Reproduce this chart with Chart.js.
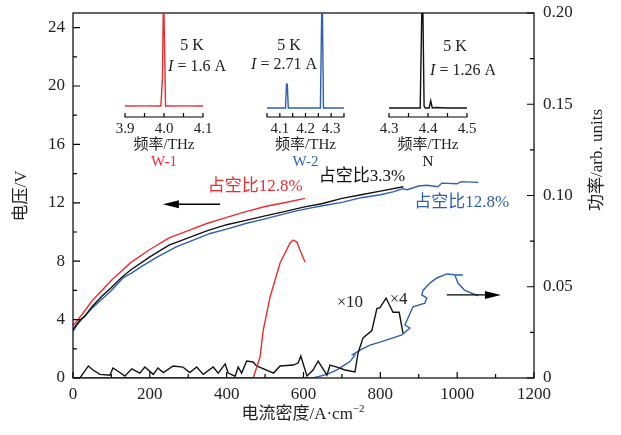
<!DOCTYPE html>
<html><head><meta charset="utf-8">
<script src="https://cdn.jsdelivr.net/npm/chart.js@4.4.1/dist/chart.umd.min.js"></script>
<style>
html,body{margin:0;padding:0;background:#fff;}
#wrap{position:relative;width:621px;height:435px;overflow:hidden;}
canvas{position:absolute;}
</style></head><body>
<div id="wrap">
<canvas id="main" width="621" height="435" style="left:0;top:0;"></canvas>
<canvas id="in1" width="130" height="175" style="left:100px;top:0;"></canvas>
<canvas id="in2" width="130" height="175" style="left:240px;top:0;"></canvas>
<canvas id="in3" width="130" height="175" style="left:365px;top:0;"></canvas>
</div>
<script>
// ---------- DATA ----------
// Voltage (left axis, V) vs current density (A/cm^2)
const redV_J   = [0,10,25,50,75,100,125,150,200,250,300,350,400,450,500,550,604];
const redV     = [3.6,3.9,4.4,5.3,6.0,6.7,7.3,7.9,8.8,9.6,10.1,10.6,11.0,11.4,11.75,12.0,12.3];
const blackV_J = [0,10,20,30,50,75,100,125,150,200,250,300,350,400,450,500,550,600,650,700,750,800,860];
const blackV   = [3.3,3.7,4.0,4.2,4.9,5.6,6.2,6.85,7.4,8.3,9.1,9.6,10.1,10.5,10.8,11.1,11.4,11.7,11.95,12.3,12.55,12.8,13.1];
const blueV_J  = [0,10,25,50,75,100,130,150,182,220,270,300,357,400,452,500,573,620,650,703,750,800,833,858,870,900,921,950,960,1000,1010,1055];
const blueV    = [3.2,3.6,4.1,4.8,5.4,6.0,6.85,7.15,7.7,8.3,9.0,9.3,9.9,10.2,10.6,10.9,11.4,11.65,11.8,12.05,12.35,12.55,12.75,12.95,12.9,13.15,13.2,13.1,13.35,13.3,13.45,13.4];
// Power (right axis, arb. units)
const redP_J   = [0,469,487,495,513,539,565,573,583,591,604];
const redP     = [0,0,0.0115,0.026,0.0444,0.063,0.074,0.0756,0.0745,0.070,0.0636];
const blackP_J = [0,18,40,52,70,96,104,122,135,153,174,187,209,221,235,261,286,304,322,339,365,378,396,404,422,430,439,452,469,478,522,539,573,586,593,609,625,638,661,669,687,708,734,742,755,778,791,799,815,833,849,859];
const blackP   = [0,0,0.0066,0.0044,0.002,0.0015,0.0055,0.003,0.001,0.005,0.0027,0.006,0.002,0.0055,0.003,0.0066,0.006,0.003,0.006,0.002,0.006,0.0027,0.0077,0.0027,0.001,0.006,0.0027,0.0093,0.0088,0.0066,0.0027,0.0066,0.0071,0.0082,0.012,0.0011,0.0044,0.0093,0.0016,0.0071,0.006,0.0044,0.0033,0.0137,0.022,0.026,0.038,0.0385,0.0438,0.036,0.036,0.0246];
const blueP_J  = [0,487,625,661,687,703,721,734,728,747,773,799,833,856,877,864,872,885,916,921,908,911,929,947,973,994,1015,994,1002,1020,1055];
const blueP    = [0,0,0,0.002,0.0044,0.0066,0.009,0.0126,0.0128,0.0153,0.018,0.0197,0.022,0.0236,0.0274,0.029,0.0329,0.039,0.041,0.0438,0.0455,0.048,0.052,0.0548,0.057,0.0566,0.0564,0.0564,0.052,0.048,0.045];
// Inset spectra (frequency THz, normalised intensity)
const w1F = [3.9,3.95,3.992,3.996,3.998,4.0,4.004,4.05,4.1];
const w1I = [0,0.002,0,0.3,1.0,1.0,0,0.002,0];
const w2F = [4.05,4.1,4.122,4.126,4.129,4.133,4.2,4.258,4.263,4.266,4.27,4.35];
const w2I = [0,0,0,0.25,0.25,0,0,0,1.0,1.0,0,0];
const nF  = [4.3,4.35,4.38,4.384,4.387,4.39,4.393,4.403,4.407,4.411,4.42,4.45,4.5];
const nI  = [0,0,0,1.0,1.0,0.02,0,0,0.075,0,0.005,0,0];
// Axis ranges / ticks
const xTicks = [0,200,400,600,800,1000,1200];
const yTicks = [0,4,8,12,16,20,24];
const y2Ticks = [0,0.05,0.10,0.15,0.20];

// ---------- STYLE ----------
const RED = '#ee2b2e', BLUE = '#2e5fb3', BLACK = '#111';
const SERIF = '"Liberation Serif","DejaVu Serif",serif';
const MIX = '"Liberation Serif","Noto Sans CJK SC",serif';
const TXT = '#222';
Chart.defaults.font.family = SERIF;
Chart.defaults.color = TXT;

const zip = (a,b) => a.map((v,i)=>({x:v,y:b[i]}));
function ds(J,V,color,axis){
  return {data:zip(J,V),borderColor:color,backgroundColor:color,borderWidth:1.4,
    pointRadius:0,showLine:true,tension:0,yAxisID:axis,fill:false};
}
function drawRich(ctx, parts, cx, cy, color){
  ctx.save(); ctx.fillStyle=color; ctx.textBaseline='alphabetic'; ctx.textAlign='left';
  let w=0; parts.forEach(p=>{ctx.font=p.f; p.w=ctx.measureText(p.t).width; w+=p.w;});
  let x=cx-w/2;
  parts.forEach(p=>{ctx.font=p.f; ctx.fillText(p.t,x,cy+(p.dy||0)); x+=p.w;});
  ctx.restore();
}
function text(ctx,s,x,y,font,color,rot){
  ctx.save(); ctx.font=font; ctx.fillStyle=color; ctx.textAlign='center'; ctx.textBaseline='middle';
  ctx.translate(x,y); if(rot) ctx.rotate(rot); ctx.fillText(s,0,0); ctx.restore();
}
function arrow(ctx,x1,y,x2){
  const dir = Math.sign(x2-x1);
  ctx.save(); ctx.strokeStyle='#000'; ctx.fillStyle='#000'; ctx.lineWidth=1.3;
  ctx.beginPath(); ctx.moveTo(x1,y); ctx.lineTo(x2-dir*10,y); ctx.stroke();
  ctx.beginPath(); ctx.moveTo(x2,y); ctx.lineTo(x2-dir*16,y-4); ctx.lineTo(x2-dir*16,y+4); ctx.closePath(); ctx.fill();
  ctx.restore();
}

const deco = {
  id:'deco',
  afterDraw(c){
    const ctx=c.ctx, a=c.chartArea, x=c.scales.x, y=c.scales.y, y2=c.scales.y2;
    ctx.save();
    ctx.strokeStyle='#000'; ctx.lineWidth=1.2;
    ctx.strokeRect(a.left,a.top,a.right-a.left,a.bottom-a.top);
    ctx.beginPath();
    for(let v=0; v<=1200; v+=100){ const p=x.getPixelForValue(v), l=(v%200===0)?6:4; ctx.moveTo(p,a.bottom); ctx.lineTo(p,a.bottom-l); }
    for(let v=0; v<=24; v+=2){ const p=y.getPixelForValue(v), l=(v%4===0)?7:4; ctx.moveTo(a.left,p); ctx.lineTo(a.left+l,p); }
    for(let k=0; k<=8; k++){ const p=y2.getPixelForValue(k*0.025), l=(k%2===0)?7:4; ctx.moveTo(a.right,p); ctx.lineTo(a.right-l,p); }
    ctx.stroke();
    ctx.restore();
    // axis titles
    text(ctx,'电压/V',22,196,'17px '+MIX,TXT,-Math.PI/2);
    text(ctx,'功率/arb. units',598,160,'17px '+MIX,TXT,-Math.PI/2);
    drawRich(ctx,[{t:'电流密度/A·cm',f:'17px '+MIX},{t:'−2',f:'11px '+SERIF,dy:-7}],303,419,TXT);
    // annotations
    text(ctx,'占空比12.8%',x.getPixelForValue(474),y.getPixelForValue(13.1),'17px '+MIX,RED);
    text(ctx,'占空比3.3%',x.getPixelForValue(752),y.getPixelForValue(13.8),'17px '+MIX,BLACK);
    text(ctx,'占空比12.8%',x.getPixelForValue(1012),y.getPixelForValue(12.0),'17px '+MIX,BLUE);
    drawRich(ctx,[{t:'×',f:'16px '+SERIF},{t:'10',f:'17px '+SERIF}],x.getPixelForValue(721),y2.getPixelForValue(0.0415)+5,TXT);
    drawRich(ctx,[{t:'×',f:'16px '+SERIF},{t:'4',f:'17px '+SERIF}],x.getPixelForValue(848),y2.getPixelForValue(0.0435)+5,TXT);
    arrow(ctx,x.getPixelForValue(383),y.getPixelForValue(11.9),x.getPixelForValue(234));
    arrow(ctx,x.getPixelForValue(973),y2.getPixelForValue(0.0455),x.getPixelForValue(1114));
  }
};

new Chart(document.getElementById('main'),{
  type:'scatter',
  data:{datasets:[
    ds(redV_J,redV,RED,'y'), ds(blackV_J,blackV,BLACK,'y'), ds(blueV_J,blueV,BLUE,'y'),
    ds(redP_J,redP,RED,'y2'), ds(blackP_J,blackP,BLACK,'y2'), ds(blueP_J,blueP,BLUE,'y2')
  ]},
  options:{
    responsive:false, animation:false, devicePixelRatio:1,
    layout:{padding:{top:13,left:0,right:0,bottom:0}},
    plugins:{legend:{display:false},tooltip:{enabled:false}},
    scales:{
      x:{type:'linear',min:0,max:1200,grid:{display:false,drawTicks:false},border:{display:false},
         afterBuildTicks:s=>{s.ticks=xTicks.map(v=>({value:v}));},
         ticks:{autoSkip:false,maxRotation:0,padding:6,font:{size:17},color:TXT,callback:v=>String(v)},
         afterFit:s=>{s.height=57;s.paddingLeft=0;s.paddingRight=0;}},
      y:{position:'left',min:0,max:25,grid:{display:false,drawTicks:false},border:{display:false},
         afterBuildTicks:s=>{s.ticks=yTicks.map(v=>({value:v}));},
         ticks:{padding:8,font:{size:17},color:TXT,callback:v=>String(v)},
         afterFit:s=>{s.width=73;s.paddingTop=0;s.paddingBottom=0;}},
      y2:{position:'right',min:0,max:0.2,grid:{display:false,drawTicks:false},border:{display:false},
         afterBuildTicks:s=>{s.ticks=y2Ticks.map(v=>({value:v}));},
         ticks:{padding:9,font:{size:17},color:TXT,callback:v=>v===0?'0':v.toFixed(2)},
         afterFit:s=>{s.width=87;s.paddingTop=0;s.paddingBottom=0;}}
    }
  },
  plugins:[deco]
});

function makeInset(id,F,I,color,min,max,ymin,padL,padR,label,Ival,kX,kY,iX,iY){
  const insetDeco = {
    id:'insetDeco',
    afterDraw(c){
      const ctx=c.ctx, a=c.chartArea, x=c.scales.x;
      ctx.save(); ctx.strokeStyle='#000'; ctx.lineWidth=1.2;
      ctx.beginPath(); ctx.moveTo(a.left,a.bottom); ctx.lineTo(a.right,a.bottom);
      x.ticks.forEach(t=>{const p=x.getPixelForValue(t.value); ctx.moveTo(p,a.bottom+0.5); ctx.lineTo(p,a.bottom-4);});
      ctx.stroke(); ctx.restore();
      const cx=(a.left+a.right)/2;
      text(ctx,'频率/THz',cx,a.bottom+28,'15px '+MIX,TXT);
      text(ctx,label,cx,a.bottom+45,'15px '+SERIF,color);
      text(ctx,'5 K',kX,kY,'16px '+SERIF,TXT);
      drawRich(ctx,[{t:'I',f:'italic 16px '+SERIF},{t:' = '+Ival+' A',f:'16px '+SERIF}],iX,iY+5,TXT);
    }
  };
  new Chart(document.getElementById(id),{
    type:'scatter',
    data:{datasets:[{data:zip(F,I),borderColor:color,borderWidth:1.4,pointRadius:0,showLine:true,tension:0}]},
    options:{
      responsive:false, animation:false, devicePixelRatio:1,
      layout:{padding:{top:13,left:padL,right:padR,bottom:0}},
      plugins:{legend:{display:false},tooltip:{enabled:false}},
      scales:{
        y:{display:false,min:ymin,max:1},
        x:{type:'linear',min:min,max:max,grid:{display:false,drawTicks:false},border:{display:false},
           ticks:{stepSize:0.05,autoSkip:false,maxRotation:0,padding:3,font:{size:15},color:TXT,
                  callback:v=>Math.abs(v*10-Math.round(v*10))<1e-6?v.toFixed(1):''},
           afterFit:s=>{s.height=58;s.paddingLeft=0;s.paddingRight=0;}}
      }
    },
    plugins:[insetDeco]
  });
}
makeInset('in1',w1F,w1I,RED,3.9,4.1,-0.118,25,27,'W-1','1.6',92,46,97,66);
makeInset('in2',w2F,w2I,BLUE,4.05,4.35,-0.095,27,26,'W-2','2.71',49,46,44,64);
makeInset('in3',nF,nI,BLACK,4.3,4.5,-0.095,24,28,'N','1.26',90,47,98,70);
</script>
</body></html>
